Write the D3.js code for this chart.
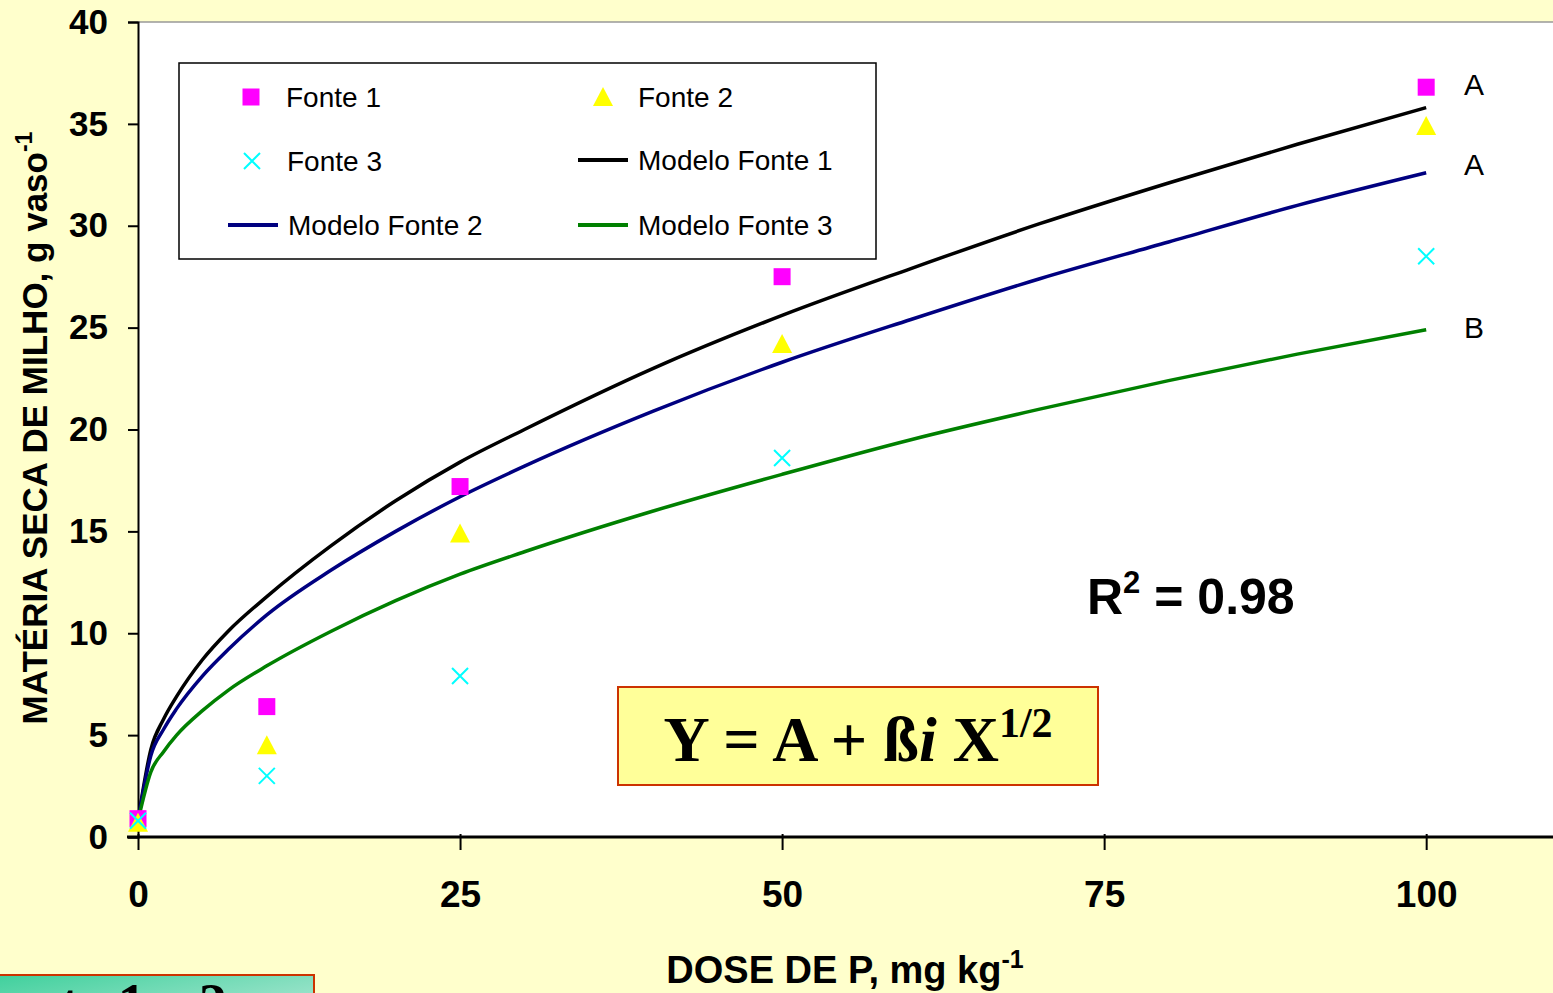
<!DOCTYPE html>
<html lang="en">
<head>
<meta charset="utf-8">
<title>Materia seca de milho</title>
<script src="https://cdn.jsdelivr.net/npm/d3@7"></script>
<style>
body { margin: 0; background: #ffffcc; overflow: hidden; }
.tick text { font-weight: bold; }
</style>
</head>
<body>
<script>
// observed points (dose, dry matter)
var doses = [0, 10, 25, 50, 100];
var fonte1 = [0.9, 6.4, 17.2, 27.5, 36.8];
var fonte2 = [0.7, 4.5, 14.9, 24.2, 34.9];
var fonte3 = [0.8, 3.0, 7.9, 18.6, 28.5];

// model curves
var modelX = [0, 1, 2, 3, 5, 7, 10, 15, 20, 25, 30, 40, 50, 60, 70, 80, 90, 100];
var modelo1 = [0.8, 4.3, 5.8, 6.9, 8.7, 10.1, 11.8, 14.3, 16.5, 18.4, 20.0, 23.0, 25.6, 27.9, 30.1, 32.1, 34.0, 35.8];
var modelo2 = [0.8, 4.0, 5.3, 6.3, 7.9, 9.2, 10.9, 13.1, 15.0, 16.7, 18.2, 20.9, 23.3, 25.4, 27.4, 29.2, 31.0, 32.6];
var modelo3 = [0.8, 3.2, 4.2, 5.0, 6.2, 7.2, 8.4, 10.1, 11.6, 12.9, 14.0, 16.0, 17.8, 19.5, 21.0, 22.4, 23.7, 24.9];

var xTicks = [0, 25, 50, 75, 100];
var yTicks = [0, 5, 10, 15, 20, 25, 30, 35, 40];
var letters = ["A", "A", "B"];
var letterY = [37.1, 33.2, 25.2];

var W = 1553, H = 993;
var sans = "Arial, 'Liberation Sans', sans-serif";
var serif = "'Times New Roman', 'Liberation Serif', serif";

var svg = d3.select("body").append("svg")
    .attr("width", W).attr("height", H)
    .style("font-family", sans);

svg.append("rect").attr("width", W).attr("height", H).attr("fill", "#ffffcc");

var x = d3.scaleLinear().domain([0, 110]).range([138, 1555]);
var y = d3.scaleLinear().domain([0, 40]).range([837, 22]);

// plot area
svg.append("rect")
    .attr("x", x(0)).attr("y", y(40))
    .attr("width", W - x(0)).attr("height", y(0) - y(40))
    .attr("fill", "white");
svg.append("line")
    .attr("x1", x(0)).attr("x2", W).attr("y1", y(40)).attr("y2", y(40))
    .attr("stroke", "#999").attr("stroke-width", 1.5);

// y axis
var yAxis = svg.append("g")
    .attr("transform", "translate(" + x(0) + ",0)")
    .call(d3.axisLeft(y).tickValues(yTicks).tickSize(10).tickPadding(20));
yAxis.select(".domain").attr("stroke", "black").attr("stroke-width", 2);
yAxis.selectAll(".tick line").attr("stroke", "black").attr("stroke-width", 2);
yAxis.selectAll(".tick text").attr("fill", "black")
    .style("font-size", "35px").style("font-family", sans);

// x axis
var xAxis = svg.append("g")
    .attr("transform", "translate(0," + y(0) + ")")
    .call(d3.axisBottom(x).tickValues(xTicks).tickSize(13).tickPadding(31));
xAxis.select(".domain").remove();
xAxis.append("line").attr("x1", 127).attr("x2", W)
    .attr("stroke", "black").attr("stroke-width", 3);
xAxis.selectAll(".tick line").attr("stroke", "black").attr("stroke-width", 2).attr("y1", -3);
xAxis.selectAll(".tick text").attr("fill", "black")
    .style("font-size", "37px").style("font-family", sans);

// axis titles
var yt = svg.append("text")
    .attr("transform", "translate(47,428) rotate(-90)")
    .attr("text-anchor", "middle")
    .attr("font-size", 35).attr("font-weight", "bold");
yt.append("tspan").text("MATÉRIA SECA DE MILHO, g vaso");
yt.append("tspan").attr("dy", -15).attr("font-size", 23).text("-1");

var xt = svg.append("text")
    .attr("x", 845).attr("y", 983)
    .attr("text-anchor", "middle")
    .attr("font-size", 38).attr("font-weight", "bold");
xt.append("tspan").text("DOSE DE P, mg kg");
xt.append("tspan").attr("dy", -15).attr("font-size", 25).text("-1");

// model lines
var models = [
    {v: modelo1, color: "#000000"},
    {v: modelo2, color: "#000080"},
    {v: modelo3, color: "#008000"}
];
var line = d3.line()
    .x(function(d, i) { return x(modelX[i]); })
    .y(function(d) { return y(d); })
    .curve(d3.curveMonotoneX);
models.forEach(function(m) {
    svg.append("path")
        .attr("d", line(m.v))
        .attr("fill", "none")
        .attr("stroke", m.color)
        .attr("stroke-width", 3.5);
});

// markers
function square(g, cx, cy) {
    g.append("rect").attr("x", cx - 8.5).attr("y", cy - 8.5)
        .attr("width", 17).attr("height", 17).attr("fill", "#ff00ff");
}
function triangle(g, cx, cy) {
    g.append("path")
        .attr("d", "M" + cx + "," + (cy - 10) + "L" + (cx + 10) + "," + (cy + 9) + "L" + (cx - 10) + "," + (cy + 9) + "Z")
        .attr("fill", "#ffff00");
}
function cross(g, cx, cy) {
    g.append("path")
        .attr("d", "M" + (cx - 8) + "," + (cy - 8) + "L" + (cx + 8) + "," + (cy + 8) +
                   "M" + (cx + 8) + "," + (cy - 8) + "L" + (cx - 8) + "," + (cy + 8))
        .attr("stroke", "#00ffff").attr("stroke-width", 2).attr("fill", "none");
}

var pts = svg.append("g");
doses.forEach(function(d, i) { square(pts, x(d), y(fonte1[i])); });
doses.forEach(function(d, i) { triangle(pts, x(d), y(fonte2[i])); });
doses.forEach(function(d, i) { cross(pts, x(d), y(fonte3[i])); });

// significance letters
svg.selectAll(".letter").data(letters).enter().append("text")
    .attr("class", "letter")
    .attr("x", 1464)
    .attr("y", function(d, i) { return y(letterY[i]) + 14; })
    .attr("font-size", 30)
    .text(function(d) { return d; });

// legend
var lg = svg.append("g");
lg.append("rect").attr("x", 179).attr("y", 63).attr("width", 697).attr("height", 196)
    .attr("fill", "white").attr("stroke", "black").attr("stroke-width", 1.5);
var legendItems = [
    {label: "Fonte 1", kind: "sq", cx: 251, cy: 97},
    {label: "Fonte 2", kind: "tri", cx: 603, cy: 97},
    {label: "Fonte 3", kind: "x", cx: 252, cy: 161},
    {label: "Modelo Fonte 1", kind: "line", color: "#000000", cx: 603, cy: 160},
    {label: "Modelo Fonte 2", kind: "line", color: "#000080", cx: 253, cy: 225},
    {label: "Modelo Fonte 3", kind: "line", color: "#008000", cx: 603, cy: 225}
];
legendItems.forEach(function(it) {
    if (it.kind === "sq") square(lg, it.cx, it.cy);
    else if (it.kind === "tri") triangle(lg, it.cx, it.cy);
    else if (it.kind === "x") cross(lg, it.cx, it.cy);
    else lg.append("line").attr("x1", it.cx - 25).attr("x2", it.cx + 25)
        .attr("y1", it.cy).attr("y2", it.cy)
        .attr("stroke", it.color).attr("stroke-width", 4);
    lg.append("text").attr("x", it.cx + 35).attr("y", it.cy + 10)
        .attr("font-size", 28).text(it.label);
});

// R squared
var r2 = svg.append("text").attr("x", 1087).attr("y", 614)
    .attr("font-size", 50).attr("font-weight", "bold");
r2.append("tspan").text("R");
r2.append("tspan").attr("dy", -21).attr("font-size", 31).text("2");
r2.append("tspan").attr("dy", 21).text(" = 0.98");

// equation box
svg.append("rect").attr("x", 618).attr("y", 687).attr("width", 480).attr("height", 98)
    .attr("fill", "#ffff99").attr("stroke", "#cc3300").attr("stroke-width", 2);
var eq = svg.append("text").attr("x", 858).attr("y", 761)
    .attr("text-anchor", "middle")
    .style("font-family", serif)
    .attr("font-size", 64).attr("font-weight", "bold");
eq.append("tspan").text("Y = A + ß");
eq.append("tspan").attr("font-style", "italic").text("i");
eq.append("tspan").text(" X");
eq.append("tspan").attr("dy", -24).attr("font-size", 42).text("1/2");

// partly hidden box at bottom left
var grad = svg.append("defs").append("linearGradient")
    .attr("id", "gbox").attr("x1", "0%").attr("y1", "0%").attr("x2", "100%").attr("y2", "100%");
grad.append("stop").attr("offset", "0%").attr("stop-color", "#3fd09c");
grad.append("stop").attr("offset", "100%").attr("stop-color", "#c4ecdf");
svg.append("rect").attr("x", -5).attr("y", 975).attr("width", 319).attr("height", 60)
    .attr("fill", "url(#gbox)").attr("stroke", "#cc3300").attr("stroke-width", 2);
svg.append("text").attr("x", -33).attr("y", 1023)
    .style("font-family", serif)
    .attr("font-size", 56).attr("font-weight", "bold")
    .text("Fonte 1 e 2");
</script>
</body>
</html>
